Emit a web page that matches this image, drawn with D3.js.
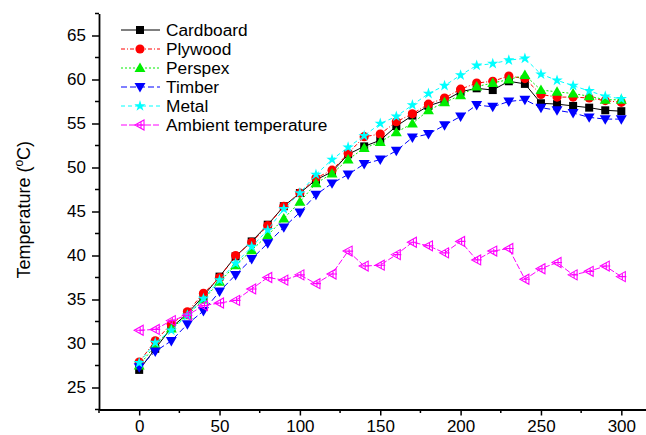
<!DOCTYPE html>
<html>
<head>
<meta charset="utf-8">
<script src="https://cdn.jsdelivr.net/npm/d3@7"></script>
<style>
  html, body { margin: 0; padding: 0; background: #fff; }
  svg { display: block; font-family: "Liberation Sans", Arial, sans-serif; }
</style>
</head>
<body>
<svg id="chart" width="646" height="435"></svg>
<script>
// Elapsed time (min) and recorded temperatures (°C)
const time = [0, 10, 20, 30, 40, 50, 60, 70, 80, 90, 100, 110, 120, 130, 140, 150,
              160, 170, 180, 190, 200, 210, 220, 230, 240, 250, 260, 270, 280, 290, 300];

const cardboard = [27.0, 29.4, 31.8, 33.4, 35.4, 37.6, 39.9, 41.6, 43.5, 45.6, 47.1, 48.6, 49.5, 51.5, 52.4, 53.1,
                   54.7, 55.9, 57.0, 57.6, 58.6, 59.0, 58.8, 59.8, 59.5, 57.3, 57.2, 57.0, 56.8, 56.5, 56.4];
const plywood   = [27.9, 30.3, 32.2, 33.6, 35.7, 37.5, 40.0, 41.5, 43.4, 45.6, 47.1, 48.8, 49.7, 51.6, 53.5, 53.8,
                   55.2, 56.1, 57.2, 57.9, 58.9, 59.6, 59.8, 60.4, 60.1, 58.3, 58.0, 58.0, 57.9, 57.6, 57.4];
const perspex   = [27.5, 29.8, 31.7, 33.2, 35.0, 37.0, 38.9, 40.6, 42.3, 44.2, 46.1, 48.2, 49.3, 50.9, 52.2, 52.9,
                   54.0, 55.0, 56.5, 57.4, 58.2, 59.2, 59.6, 60.0, 60.5, 58.8, 58.6, 58.4, 58.1, 57.7, 57.7];
const timber    = [27.3, 29.1, 30.3, 32.2, 33.7, 35.9, 37.8, 39.6, 41.4, 43.2, 44.9, 46.9, 48.2, 49.2, 50.4, 50.9,
                   51.9, 53.4, 53.8, 54.8, 55.8, 57.1, 56.9, 57.5, 57.7, 56.8, 56.5, 56.2, 55.7, 55.5, 55.5];
const metal     = [27.8, 30.1, 31.5, 33.2, 35.1, 37.2, 39.1, 41.0, 42.9, 45.3, 47.1, 49.2, 50.9, 52.3, 53.6, 55.0,
                   55.8, 57.1, 58.4, 59.3, 60.5, 61.6, 61.8, 62.2, 62.4, 60.6, 59.9, 59.3, 58.7, 58.1, 57.8];
const ambient   = [31.5, 31.6, 32.6, 33.2, 34.3, 34.6, 34.9, 36.2, 37.5, 37.2, 37.8, 36.8, 37.9, 40.5, 38.8, 38.9,
                   40.1, 41.5, 41.1, 40.3, 41.6, 39.5, 40.5, 40.8, 37.3, 38.5, 39.2, 37.8, 38.2, 38.8, 37.6];

const seriesNames = ["Cardboard", "Plywood", "Perspex", "Timber", "Metal", "Ambient temperature"];
const seriesValues = [cardboard, plywood, perspex, timber, metal, ambient];

const xTicks = [0, 50, 100, 150, 200, 250, 300];
const xMinorTicks = [-25, 25, 75, 125, 175, 225, 275, 325];
const yTicks = [25, 30, 35, 40, 45, 50, 55, 60, 65];
const yMinorTicks = [22.5, 27.5, 32.5, 37.5, 42.5, 47.5, 52.5, 57.5, 62.5, 67.5];

// Visual style per series
const styles = [
  { color: "#000000", dash: null,      marker: "square" },
  { color: "#ff0000", dash: "4,2,1,2", marker: "circle" },
  { color: "#00ee00", dash: "2,2",     marker: "triUp" },
  { color: "#0000ff", dash: "6,3",     marker: "triDown" },
  { color: "#00ffff", dash: "4,3",     marker: "star" },
  { color: "#ff00ff", dash: "6,2",     marker: "ambient" }
];

const svg = d3.select("#chart");

const x = d3.scaleLinear().domain([-25, 325]).range([99, 661.5]);
const y = d3.scaleLinear().domain([22.5, 67.5]).range([409.5, 13.5]);

// Markers
function drawMarker(g, kind, color) {
  if (kind === "square") {
    g.append("path").attr("d", d3.symbol(d3.symbolSquare, 64)()).attr("fill", color);
  } else if (kind === "circle") {
    g.append("path").attr("d", d3.symbol(d3.symbolCircle, 66)()).attr("fill", color);
  } else if (kind === "triUp") {
    g.append("path").attr("d", d3.symbol(d3.symbolTriangle, 52)()).attr("fill", color)
      .attr("transform", "translate(0,0.8)");
  } else if (kind === "triDown") {
    g.append("path").attr("d", d3.symbol(d3.symbolTriangle, 52)()).attr("fill", color)
      .attr("transform", "translate(0,-0.8) rotate(180)");
  } else if (kind === "star") {
    g.append("path").attr("d", d3.symbol(d3.symbolStar, 40)()).attr("fill", color);
  } else if (kind === "ambient") {
    g.append("path")
      .attr("d", "M-5,0 L4,-5 L4,5 Z M-3,0 H5 M1,-3.5 V3.5")
      .attr("fill", "none").attr("stroke", color).attr("stroke-width", 1.1);
  }
}

// Axes
const xAxis = d3.axisBottom(x).tickValues(xTicks).tickSize(6).tickSizeOuter(0).tickPadding(4);
const yAxis = d3.axisLeft(y).tickValues(yTicks).tickSize(7).tickSizeOuter(0).tickPadding(6);

const gx = svg.append("g").attr("transform", `translate(0,${y(22.5)})`).call(xAxis);
const gy = svg.append("g").attr("transform", `translate(${x(-25)},0)`).call(yAxis);

[gx, gy].forEach(g => {
  g.select(".domain").attr("stroke", "#000").attr("stroke-width", 1.8);
  g.selectAll(".tick line").attr("stroke", "#000").attr("stroke-width", 1.5);
  g.selectAll(".tick text").attr("font-size", 17).attr("fill", "#000")
    .attr("font-family", "'Liberation Sans', Arial, sans-serif");
});

// Minor ticks
svg.append("g").selectAll("line").data(xMinorTicks).join("line")
  .attr("x1", d => x(d)).attr("x2", d => x(d))
  .attr("y1", y(22.5)).attr("y2", y(22.5) + 3.5)
  .attr("stroke", "#000").attr("stroke-width", 1.5);
svg.append("g").selectAll("line").data(yMinorTicks).join("line")
  .attr("x1", x(-25)).attr("x2", x(-25) - 4)
  .attr("y1", d => y(d)).attr("y2", d => y(d))
  .attr("stroke", "#000").attr("stroke-width", 1.5);

// Y axis title
svg.append("text")
  .attr("transform", `translate(30,${y(45.2)}) rotate(-90)`)
  .attr("text-anchor", "middle")
  .attr("font-size", 18)
  .attr("fill", "#000")
  .html('Temperature (<tspan baseline-shift="super" font-size="12">o</tspan>C)');

// Series lines and markers
const line = d3.line().x((d, i) => x(time[i])).y(d => y(d));

seriesValues.forEach((vals, k) => {
  const s = styles[k];
  svg.append("path")
    .datum(vals)
    .attr("d", line)
    .attr("fill", "none")
    .attr("stroke", s.color)
    .attr("stroke-width", 1)
    .attr("stroke-dasharray", s.dash);
  const mg = svg.append("g");
  vals.forEach((v, i) => {
    const g = mg.append("g").attr("transform", `translate(${x(time[i])},${y(v)})`);
    drawMarker(g, s.marker, s.color);
  });
});

// Legend
const legend = svg.append("g");
seriesNames.forEach((name, k) => {
  const s = styles[k];
  const ly = 30 + k * 19;
  legend.append("line")
    .attr("x1", 121).attr("x2", 160).attr("y1", ly).attr("y2", ly)
    .attr("stroke", s.color).attr("stroke-width", 1)
    .attr("stroke-dasharray", s.dash);
  const g = legend.append("g").attr("transform", `translate(140,${ly})`);
  drawMarker(g, s.marker, s.color);
  legend.append("text")
    .attr("x", 166).attr("y", ly).attr("dy", "0.36em")
    .attr("font-size", 17.3).attr("fill", "#000")
    .text(name);
});
</script>
</body>
</html>
